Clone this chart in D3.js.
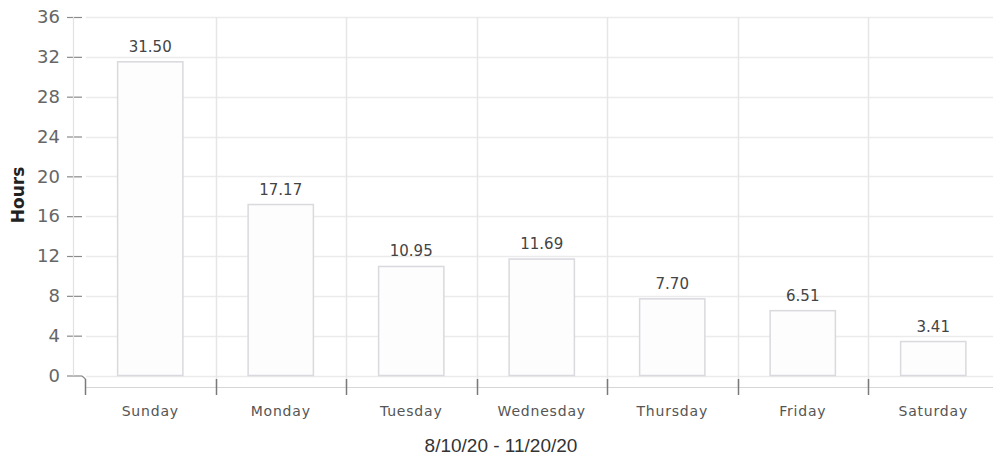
<!DOCTYPE html>
<html>
<head>
<meta charset="utf-8">
<script src="https://cdn.jsdelivr.net/npm/d3@7/dist/d3.min.js"></script>
<style>
  html, body { margin: 0; padding: 0; background: #fff; }
  svg { display: block; }
  text { font-family: "DejaVu Sans", Verdana, sans-serif; }
</style>
</head>
<body>
<svg id="chart" width="993" height="457"></svg>
<script>
// Hours logged per weekday
const days = ["Sunday", "Monday", "Tuesday", "Wednesday", "Thursday", "Friday", "Saturday"];
const hours = [31.50, 17.17, 10.95, 11.69, 7.70, 6.51, 3.41];
const yTicks = [0, 4, 8, 12, 16, 20, 24, 28, 32, 36];
const yTitle = "Hours";
const xTitle = "8/10/20 - 11/20/20";

const svg = d3.select("#chart");

const x = d3.scaleBand()
  .domain(days)
  .range([85, 998.5])
  .paddingInner(0.5)
  .paddingOuter(0.25);

const y = d3.scaleLinear()
  .domain([0, 36])
  .range([375.5, 17]);

const step = x.step();
const boundaries = days.map(d => x(d) - x.paddingOuter() * step);

// horizontal grid
svg.append("g")
  .selectAll("line")
  .data(yTicks)
  .join("line")
  .attr("x1", 86).attr("x2", 993)
  .attr("y1", d => Math.round(y(d)) + 0.5)
  .attr("y2", d => Math.round(y(d)) + 0.5)
  .attr("stroke", "#ebebeb")
  .attr("stroke-width", 1.5);

// vertical grid at category boundaries
svg.append("g")
  .selectAll("line")
  .data(boundaries.slice(1))
  .join("line")
  .attr("x1", d => Math.round(d) + 0.5).attr("x2", d => Math.round(d) + 0.5)
  .attr("y1", y(36)).attr("y2", 387)
  .attr("stroke", "#e6e6e6")
  .attr("stroke-width", 1.5);

// y axis
const yAxis = svg.append("g").attr("transform", "translate(82,0)")
  .call(d3.axisLeft(y).tickValues(yTicks).tickSize(15).tickPadding(7));
yAxis.select(".domain").remove();
yAxis.selectAll(".tick line").attr("stroke", "#8a8a8a").attr("stroke-width", 1.2);
yAxis.selectAll(".tick text")
  .attr("fill", "#666")
  .style("font-size", "18px")
  .style("font-family", "'DejaVu Sans', Verdana, sans-serif");

svg.append("line")
  .attr("x1", 73.5).attr("x2", 73.5)
  .attr("y1", y(36)).attr("y2", y(0))
  .attr("stroke", "#e2e2e2").attr("stroke-width", 1.2);

// x axis line and boundary ticks
svg.append("line")
  .attr("x1", 85).attr("x2", 993)
  .attr("y1", 387.5).attr("y2", 387.5)
  .attr("stroke", "#d6d6d6").attr("stroke-width", 1.2);

svg.append("g")
  .selectAll("line")
  .data(boundaries)
  .join("line")
  .attr("x1", d => Math.round(d) + 0.5).attr("x2", d => Math.round(d) + 0.5)
  .attr("y1", 379).attr("y2", 395)
  .attr("stroke", "#7a7a7a")
  .attr("stroke-width", 1.5);

// small connector at the origin
svg.append("line")
  .attr("x1", 82).attr("x2", 85.5)
  .attr("y1", y(0) + 0.5).attr("y2", 379)
  .attr("stroke", "#8a8a8a").attr("stroke-width", 1.2);

// category labels
svg.append("g")
  .selectAll("text")
  .data(days)
  .join("text")
  .attr("x", d => x(d) + x.bandwidth() / 2)
  .attr("y", 416)
  .attr("text-anchor", "middle")
  .attr("fill", "#555")
  .style("font-size", "14px")
  .style("letter-spacing", "0.8px")
  .text(d => d);

// bars
svg.append("g")
  .selectAll("rect")
  .data(days)
  .join("rect")
  .attr("x", d => x(d))
  .attr("y", (d, i) => y(hours[i]))
  .attr("width", x.bandwidth())
  .attr("height", (d, i) => y(0) - y(hours[i]))
  .attr("fill", "#fdfdfe")
  .attr("stroke", "#d9d9de")
  .attr("stroke-width", 1.5);

// value labels
svg.append("g")
  .selectAll("text")
  .data(days)
  .join("text")
  .attr("x", d => x(d) + x.bandwidth() / 2)
  .attr("y", (d, i) => y(hours[i]) - 10)
  .attr("text-anchor", "middle")
  .attr("fill", "#444")
  .style("font-size", "15px")
  .text((d, i) => hours[i].toFixed(2));

// axis titles
svg.append("text")
  .attr("transform", "translate(24,195) rotate(-90)")
  .attr("text-anchor", "middle")
  .attr("fill", "#222")
  .style("font-size", "17px")
  .style("font-weight", "bold")
  .text(yTitle);

svg.append("text")
  .attr("x", 501)
  .attr("y", 452)
  .attr("text-anchor", "middle")
  .attr("fill", "#333")
  .style("font-family", "'Liberation Sans', Arial, sans-serif")
  .style("font-size", "19px")
  .text(xTitle);
</script>
</body>
</html>
